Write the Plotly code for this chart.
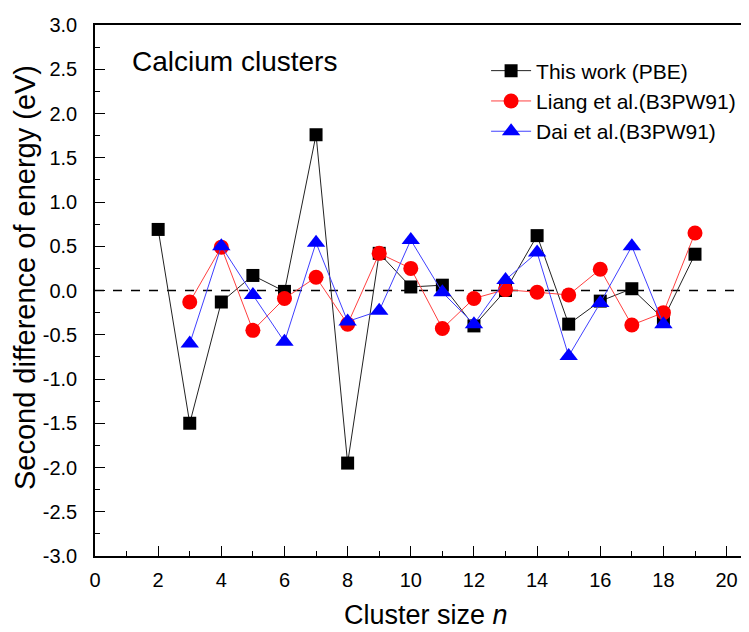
import plotly.graph_objects as go

n_pbe = [2, 3, 4, 5, 6, 7, 8, 9, 10, 11, 12, 13, 14, 15, 16, 17, 18, 19]
pbe = [0.69, -1.50, -0.13, 0.17, -0.01, 1.76, -1.95, 0.42, 0.04, 0.06, -0.40, 0.00, 0.62, -0.38, -0.12, 0.02, -0.32, 0.41]

n_liang = [3, 4, 5, 6, 7, 8, 9, 10, 11, 12, 13, 14, 15, 16, 17, 18, 19]
liang = [-0.13, 0.49, -0.45, -0.09, 0.15, -0.38, 0.42, 0.25, -0.43, -0.09, 0.01, -0.02, -0.05, 0.24, -0.39, -0.25, 0.65]

n_dai = [3, 4, 5, 6, 7, 8, 9, 10, 11, 12, 13, 14, 15, 16, 17, 18]
dai = [-0.60, 0.50, -0.05, -0.58, 0.54, -0.35, -0.23, 0.57, -0.02, -0.38, 0.12, 0.43, -0.74, -0.14, 0.50, -0.38]

x_ticks = list(range(0, 21, 2))
y_ticks = [-3.0, -2.5, -2.0, -1.5, -1.0, -0.5, 0.0, 0.5, 1.0, 1.5, 2.0, 2.5, 3.0]
y_tick_text = ["%.1f" % v for v in y_ticks]

FONT = "Liberation Sans, Arial, sans-serif"

fig = go.Figure()
fig.add_trace(go.Scatter(x=n_pbe, y=pbe, mode="lines+markers", name="This work (PBE)",
                         line=dict(color="#222222", width=1),
                         marker=dict(symbol="square", size=13, color="black")))
fig.add_trace(go.Scatter(x=n_liang, y=liang, mode="lines+markers", name="Liang et al.(B3PW91)",
                         line=dict(color="#ff4040", width=1),
                         marker=dict(symbol="circle", size=15, color="red")))
fig.add_trace(go.Scatter(x=n_dai, y=dai, mode="lines+markers", name="Dai et al.(B3PW91)",
                         line=dict(color="#4040ff", width=1),
                         marker=dict(symbol="triangle-up", size=16, color="blue")))

fig.add_shape(type="line", xref="paper", yref="y", x0=0, x1=1, y0=0, y1=0,
              line=dict(color="black", width=1.3, dash="dash"), layer="below")

fig.add_annotation(text="Calcium clusters", xref="x", yref="y", x=1.1, y=2.59,
                   xanchor="left", yanchor="middle", showarrow=False,
                   font=dict(family=FONT, size=28, color="black"))

# axis titles as annotations for precise placement
fig.add_annotation(text="Second difference of energy (eV)", xref="paper", yref="paper",
                   x=-0.107, y=0.5235, xanchor="center", yanchor="middle", textangle=-90,
                   showarrow=False, font=dict(family=FONT, size=29, color="black"))
fig.add_annotation(text="Cluster size <i>n</i>", xref="paper", yref="paper",
                   x=0.506, y=-0.1431, xanchor="center", yanchor="bottom",
                   showarrow=False, font=dict(family=FONT, size=27, color="black"))

fig.update_layout(
    width=749, height=632,
    margin=dict(l=87, r=8, t=17, b=84),
    paper_bgcolor="white", plot_bgcolor="white",
    font=dict(family=FONT, color="black"),
    showlegend=True,
    legend=dict(x=0.598, y=0.952, xanchor="left", yanchor="top",
                bgcolor="rgba(0,0,0,0)", font=dict(size=21, family=FONT),
                itemwidth=40, tracegroupgap=0),
    xaxis=dict(range=[0, 20.71], tickmode="array", tickvals=x_ticks, automargin=False,
               ticks="inside", ticklen=10, tickwidth=1.2, tickcolor="black",
               minor=dict(ticks="inside", ticklen=5, tickwidth=1.2, tickcolor="black", dtick=1, tick0=0),
               showline=True, linecolor="black", linewidth=1.5, mirror=True,
               showgrid=False, zeroline=False,
               tickfont=dict(size=20), ticklabelstandoff=5),
    yaxis=dict(range=[-3.0, 3.0], tickmode="array", tickvals=y_ticks, ticktext=y_tick_text, automargin=False,
               ticks="inside", ticklen=10, tickwidth=1.2, tickcolor="black",
               minor=dict(ticks="inside", ticklen=5, tickwidth=1.2, tickcolor="black", dtick=0.25, tick0=0),
               showline=True, linecolor="black", linewidth=1.5,
               showgrid=False, zeroline=False,
               tickfont=dict(size=20), ticklabelstandoff=12),
)

fig.write_html("out.html")
